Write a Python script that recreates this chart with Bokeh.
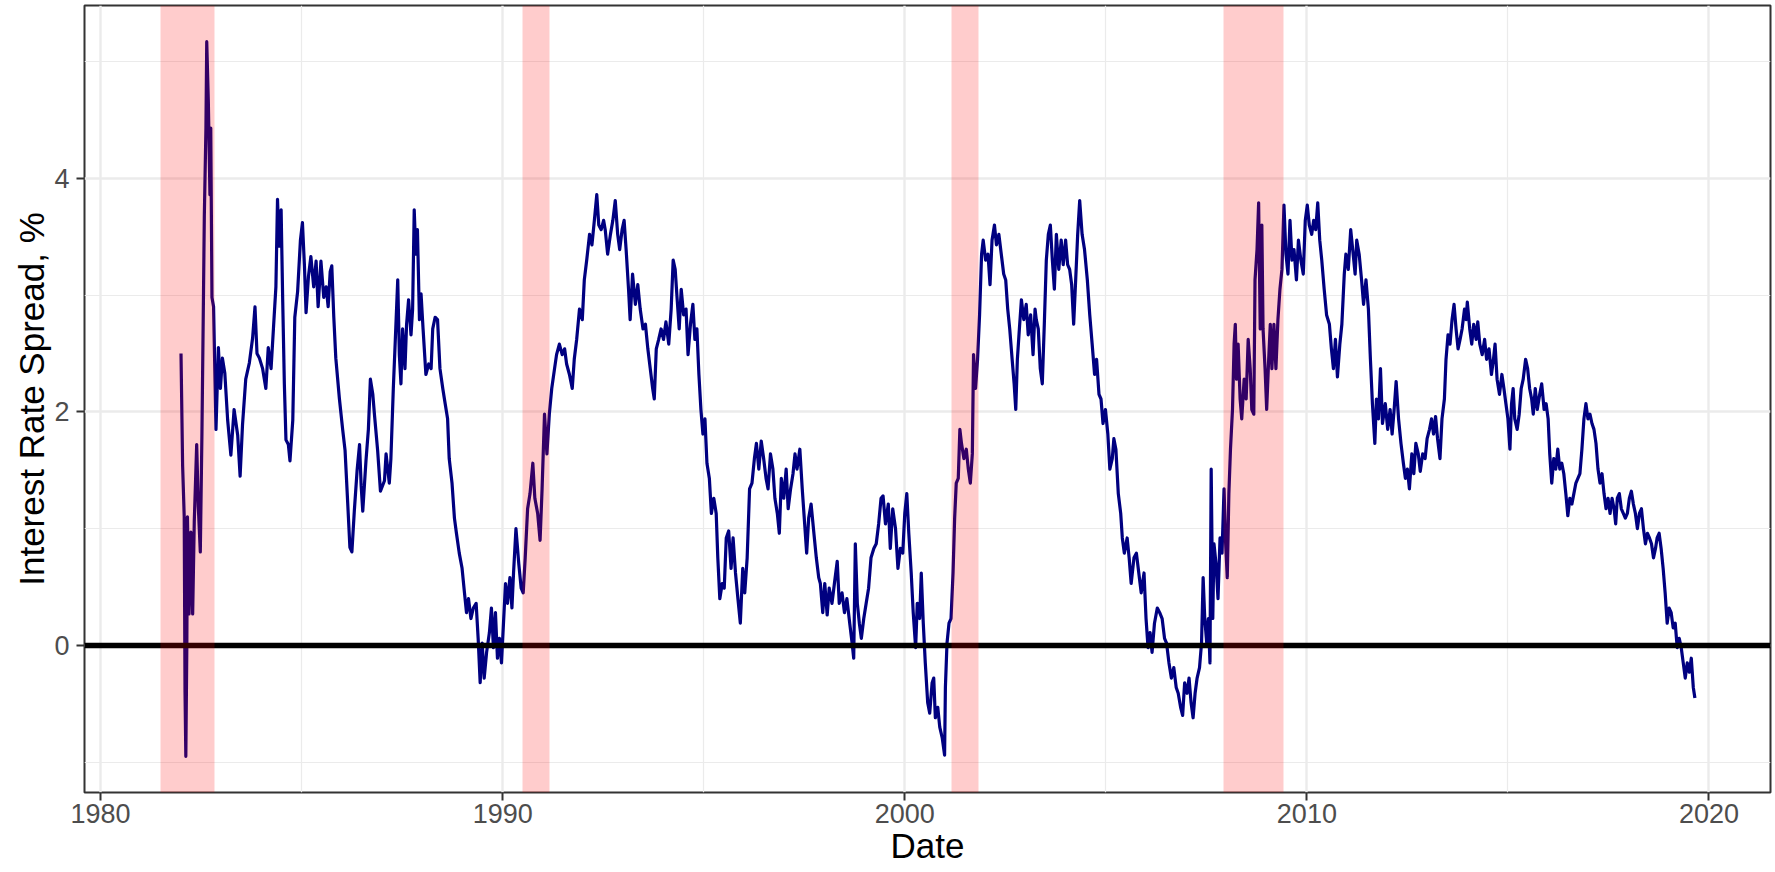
from bokeh.plotting import figure
from bokeh.models import FixedTicker, Range1d
from bokeh.embed import file_html
from bokeh.resources import INLINE

# ---- data (decimal years, spread in %) ----
spread_year = [
    1982.00, 1982.04, 1982.08, 1982.10, 1982.12, 1982.145, 1982.16, 1982.20, 1982.245, 1982.29,
    1982.33, 1982.39, 1982.43, 1982.48, 1982.52, 1982.56, 1982.58, 1982.62, 1982.64, 1982.68,
    1982.72, 1982.74, 1982.77, 1982.81, 1982.84, 1982.87, 1982.93, 1982.98, 1983.03, 1983.09,
    1983.16, 1983.24, 1983.32, 1983.41, 1983.47, 1983.53, 1983.61, 1983.70, 1983.78, 1983.84,
    1983.89, 1983.95, 1984.03, 1984.11, 1984.17, 1984.24, 1984.30, 1984.36, 1984.40, 1984.44,
    1984.49, 1984.53, 1984.57, 1984.61, 1984.67, 1984.71, 1984.78, 1984.83, 1984.90, 1984.97,
    1985.02, 1985.07, 1985.11, 1985.17, 1985.23, 1985.30, 1985.36, 1985.41, 1985.48, 1985.55,
    1985.61, 1985.66, 1985.71, 1985.75, 1985.80, 1985.85, 1985.94, 1986.02, 1986.08, 1986.15,
    1986.20, 1986.25, 1986.31, 1986.38, 1986.44, 1986.48, 1986.52, 1986.60, 1986.66, 1986.71,
    1986.77, 1986.81, 1986.89, 1986.96, 1987.06,
    1987.10, 1987.18, 1987.22, 1987.28, 1987.33, 1987.39, 1987.43, 1987.47, 1987.51, 1987.57,
    1987.61, 1987.66, 1987.72, 1987.76, 1987.80, 1987.84, 1987.88, 1987.93, 1987.97, 1988.02,
    1988.09, 1988.16, 1988.22, 1988.26, 1988.32, 1988.38, 1988.44, 1988.51, 1988.57, 1988.63,
    1988.67, 1988.74, 1988.80, 1988.85, 1988.92, 1988.99, 1989.05, 1989.10, 1989.15, 1989.21,
    1989.27, 1989.34, 1989.39, 1989.44, 1989.49, 1989.54, 1989.60, 1989.67, 1989.72, 1989.77,
    1989.82, 1989.87, 1989.92, 1989.97, 1990.02, 1990.07, 1990.12, 1990.18, 1990.23, 1990.27,
    1990.33, 1990.40, 1990.46, 1990.51, 1990.56, 1990.62, 1990.68, 1990.75, 1990.80, 1990.87,
    1990.93, 1990.98, 1991.04, 1991.10, 1991.16, 1991.22, 1991.29, 1991.34, 1991.41, 1991.48,
    1991.54, 1991.59, 1991.66, 1991.73, 1991.78, 1991.84, 1991.91, 1991.98, 1992.03, 1992.09,
    1992.16, 1992.22, 1992.28, 1992.34, 1992.39, 1992.45, 1992.51,
    1992.55, 1992.61, 1992.68, 1992.74, 1992.80, 1992.86, 1992.91, 1992.97, 1993.02, 1993.07,
    1993.13, 1993.17, 1993.23, 1993.30, 1993.36, 1993.42, 1993.49, 1993.55, 1993.61, 1993.67,
    1993.73, 1993.77, 1993.82, 1993.88, 1993.94, 1994.00, 1994.06, 1994.13, 1994.19, 1994.24,
    1994.29, 1994.34, 1994.39, 1994.44, 1994.50, 1994.56, 1994.61, 1994.67, 1994.73, 1994.78,
    1994.83, 1994.88, 1994.93, 1994.98, 1995.03, 1995.08, 1995.14, 1995.19, 1995.25, 1995.31,
    1995.35, 1995.40, 1995.46, 1995.51, 1995.56, 1995.62, 1995.68, 1995.73, 1995.79, 1995.85,
    1995.91, 1995.97, 1996.02, 1996.08, 1996.14, 1996.20, 1996.26, 1996.31, 1996.37, 1996.43,
    1996.49, 1996.55, 1996.60, 1996.66, 1996.72, 1996.77, 1996.83, 1996.88, 1996.93, 1996.99,
    1997.05, 1997.10, 1997.16, 1997.22, 1997.27, 1997.32, 1997.39, 1997.45, 1997.51, 1997.56,
    1997.61, 1997.67, 1997.74, 1997.80, 1997.86,
    1997.90, 1997.96, 1998.01, 1998.07, 1998.12, 1998.19, 1998.25, 1998.32, 1998.37, 1998.44,
    1998.50, 1998.56, 1998.63, 1998.69, 1998.73, 1998.77, 1998.82, 1998.87, 1998.92, 1998.98,
    1999.04, 1999.10, 1999.16, 1999.23, 1999.29, 1999.35, 1999.41, 1999.46, 1999.52, 1999.59,
    1999.64, 1999.70, 1999.77, 1999.83, 1999.89, 1999.95, 2000.00, 2000.05, 2000.10, 2000.16,
    2000.21, 2000.27, 2000.31, 2000.37, 2000.41, 2000.46, 2000.51, 2000.57, 2000.62, 2000.68,
    2000.72, 2000.76, 2000.82, 2000.87, 2000.93, 2000.99, 2001.01, 2001.05, 2001.10, 2001.15,
    2001.20, 2001.24, 2001.28, 2001.33, 2001.37, 2001.41, 2001.47, 2001.53, 2001.58, 2001.63,
    2001.68, 2001.71, 2001.76, 2001.81, 2001.86, 2001.91, 2001.95, 2002.01, 2002.07, 2002.12,
    2002.17, 2002.23, 2002.28, 2002.34, 2002.40, 2002.46, 2002.51, 2002.56, 2002.61, 2002.67,
    2002.72, 2002.76, 2002.80, 2002.85, 2002.90, 2002.96, 2003.02, 2003.07, 2003.13, 2003.19,
    2003.24,
    2003.27, 2003.32, 2003.37, 2003.42, 2003.47, 2003.52, 2003.57, 2003.62, 2003.67, 2003.72,
    2003.77, 2003.83, 2003.89, 2003.94, 2004.00, 2004.05, 2004.10, 2004.15, 2004.20, 2004.25,
    2004.30, 2004.35, 2004.41, 2004.47, 2004.54, 2004.60, 2004.66, 2004.72, 2004.77, 2004.83,
    2004.88, 2004.93, 2004.99, 2005.05, 2005.10, 2005.16, 2005.20, 2005.25, 2005.31, 2005.37,
    2005.41, 2005.46, 2005.53, 2005.58, 2005.63, 2005.70, 2005.76, 2005.82, 2005.88, 2005.95,
    2006.00, 2006.05, 2006.10, 2006.15, 2006.21, 2006.28, 2006.34, 2006.40, 2006.46, 2006.51,
    2006.57, 2006.63, 2006.69, 2006.75, 2006.80, 2006.86, 2006.91, 2006.96, 2007.02, 2007.07,
    2007.12, 2007.17, 2007.22, 2007.27, 2007.33, 2007.38, 2007.42, 2007.46, 2007.51, 2007.55,
    2007.59, 2007.62, 2007.66, 2007.69, 2007.74, 2007.79, 2007.84, 2007.89, 2007.94, 2007.98,
    2008.02, 2008.06, 2008.10, 2008.15, 2008.19, 2008.22, 2008.25, 2008.29, 2008.34, 2008.38,
    2008.44, 2008.49, 2008.54, 2008.59,
    2008.63, 2008.68, 2008.71, 2008.76, 2008.80, 2008.84, 2008.88, 2008.91, 2008.96, 2009.00,
    2009.05, 2009.09, 2009.13, 2009.18, 2009.23, 2009.28, 2009.33, 2009.38, 2009.43, 2009.48,
    2009.53, 2009.58, 2009.63, 2009.68, 2009.74, 2009.79, 2009.85, 2009.91, 2009.96, 2010.01,
    2010.06, 2010.12, 2010.17, 2010.22, 2010.27, 2010.32, 2010.37, 2010.43, 2010.49, 2010.56,
    2010.61, 2010.66, 2010.71, 2010.76, 2010.82, 2010.87, 2010.93, 2010.97, 2011.03, 2011.09,
    2011.14, 2011.20, 2011.24, 2011.30, 2011.36, 2011.41, 2011.47, 2011.53, 2011.58, 2011.63,
    2011.69, 2011.73, 2011.78, 2011.83, 2011.88, 2011.95, 2012.01, 2012.07, 2012.12, 2012.17,
    2012.22, 2012.28, 2012.34, 2012.40, 2012.45, 2012.50, 2012.55, 2012.61, 2012.66, 2012.71,
    2012.77, 2012.82, 2012.88, 2012.94, 2012.99, 2013.05, 2013.10, 2013.15, 2013.20, 2013.25,
    2013.31, 2013.36, 2013.42, 2013.46, 2013.51, 2013.56, 2013.61, 2013.66, 2013.71, 2013.76,
    2013.81, 2013.86, 2013.92, 2013.96,
    2013.99, 2014.05, 2014.10, 2014.15, 2014.21, 2014.25, 2014.30, 2014.36, 2014.42, 2014.47,
    2014.53, 2014.59, 2014.64, 2014.68, 2014.73, 2014.79, 2014.85, 2014.90, 2014.95, 2015.00,
    2015.05, 2015.09, 2015.13, 2015.17, 2015.23, 2015.28, 2015.33, 2015.38, 2015.44, 2015.49,
    2015.54, 2015.59, 2015.63, 2015.68, 2015.73, 2015.79, 2015.84, 2015.90, 2015.95, 2016.00,
    2016.04, 2016.09, 2016.14, 2016.19, 2016.24, 2016.29, 2016.34, 2016.39, 2016.44, 2016.49,
    2016.54, 2016.59, 2016.64, 2016.69, 2016.74, 2016.79, 2016.84, 2016.89, 2016.94, 2016.99,
    2017.04, 2017.09, 2017.14, 2017.19, 2017.24, 2017.29, 2017.34, 2017.39, 2017.44, 2017.49,
    2017.54, 2017.59, 2017.64, 2017.68, 2017.72, 2017.77, 2017.82, 2017.87, 2017.92, 2017.97,
    2018.02, 2018.07, 2018.12, 2018.17, 2018.22, 2018.27, 2018.32, 2018.37, 2018.42, 2018.47,
    2018.52, 2018.57, 2018.62, 2018.67, 2018.71, 2018.76, 2018.81, 2018.86, 2018.91, 2018.96,
    2019.01, 2019.06, 2019.11, 2019.16, 2019.21, 2019.26, 2019.31, 2019.36, 2019.41, 2019.46,
    2019.51, 2019.56, 2019.61, 2019.65,
]

spread_pct = [
    2.50, 1.54, 1.10, -0.40, -0.95, 0.00, 1.10, 0.27, 0.97, 0.27,
    1.06, 1.72, 1.19, 0.80, 1.80, 3.03, 3.68, 4.43, 5.17, 4.65,
    3.86, 4.43, 2.98, 2.90, 2.37, 1.85, 2.55, 2.20, 2.46, 2.33,
    1.93, 1.63, 2.02, 1.80, 1.45, 1.89, 2.28, 2.42, 2.63, 2.90,
    2.50, 2.46, 2.37, 2.20, 2.55, 2.37, 2.72, 3.07, 3.82, 3.42,
    3.73, 2.94, 2.24, 1.76, 1.72, 1.58, 1.93, 2.81, 3.03, 3.47,
    3.62, 3.25, 2.85, 3.16, 3.33, 3.07, 3.29, 2.90, 3.29, 2.98,
    3.07, 2.90, 3.20, 3.25, 2.81, 2.46, 2.11, 1.85, 1.67, 1.19,
    0.84, 0.80, 1.15, 1.50, 1.72, 1.37, 1.15, 1.58, 1.85, 2.28,
    2.15, 1.98, 1.67, 1.32, 1.41,
    1.64, 1.39, 1.60, 2.20, 2.62, 3.13, 2.49, 2.24, 2.71, 2.37,
    2.75, 2.96, 2.66, 2.88, 3.73, 3.35, 3.56, 2.79, 3.01, 2.71,
    2.32, 2.41, 2.37, 2.71, 2.81, 2.79, 2.37, 2.20, 2.07, 1.94,
    1.60, 1.39, 1.09, 0.96, 0.79, 0.66, 0.45, 0.28, 0.40, 0.23,
    0.32, 0.36, 0.06, -0.32, 0.02, -0.28, -0.06, 0.11, 0.32, -0.02,
    0.28, -0.11, 0.06, -0.15, 0.19, 0.53, 0.36, 0.58, 0.32, 0.62,
    1.00, 0.70, 0.49, 0.45, 0.75, 1.17, 1.30, 1.56, 1.26, 1.13,
    0.90, 1.34, 1.98, 1.64, 1.98, 2.20, 2.37, 2.49, 2.58, 2.49,
    2.54, 2.41, 2.32, 2.20, 2.45, 2.62, 2.88, 2.79, 3.13, 3.30,
    3.52, 3.43, 3.64, 3.86, 3.60, 3.56, 3.64,
    3.56, 3.35, 3.52, 3.64, 3.81, 3.52, 3.39, 3.56, 3.64, 3.39,
    3.05, 2.79, 3.18, 2.92, 3.09, 2.88, 2.71, 2.75, 2.54, 2.37,
    2.20, 2.11, 2.54, 2.62, 2.71, 2.62, 2.77, 2.58, 2.88, 3.30,
    3.22, 2.96, 2.71, 3.05, 2.83, 2.88, 2.49, 2.75, 2.92, 2.62,
    2.71, 2.32, 2.02, 1.81, 1.94, 1.56, 1.43, 1.13, 1.26, 1.13,
    0.75, 0.40, 0.53, 0.49, 0.92, 0.98, 0.66, 0.92, 0.62, 0.40,
    0.19, 0.66, 0.45, 0.75, 1.34, 1.39, 1.60, 1.73, 1.51, 1.75,
    1.60, 1.43, 1.34, 1.64, 1.51, 1.26, 1.13, 0.96, 1.43, 1.26,
    1.51, 1.17, 1.34, 1.47, 1.64, 1.51, 1.68, 1.34, 1.04, 0.79,
    1.09, 1.21, 0.96, 0.75, 0.58,
    0.53, 0.28, 0.53, 0.26, 0.49, 0.36, 0.53, 0.72, 0.36, 0.45,
    0.28, 0.40, 0.19, 0.02, -0.11, 0.87, 0.36, 0.19, 0.06, 0.23,
    0.36, 0.49, 0.75, 0.83, 0.87, 1.04, 1.26, 1.28, 1.04, 1.21,
    0.83, 1.17, 1.00, 0.66, 0.83, 0.79, 1.13, 1.30, 0.96, 0.62,
    0.28, -0.02, 0.36, 0.23, 0.62, 0.19, -0.15, -0.49, -0.58, -0.32,
    -0.28, -0.62, -0.53, -0.70, -0.79, -0.94, -0.36, 0.02, 0.19, 0.23,
    0.62, 1.09, 1.39, 1.43, 1.85, 1.73, 1.60, 1.68, 1.51, 1.39,
    1.64, 2.49, 2.20, 2.45, 2.83, 3.35, 3.47, 3.30, 3.35, 3.09,
    3.47, 3.60, 3.43, 3.52, 3.35, 3.18, 3.13, 2.88, 2.71, 2.45,
    2.24, 2.02, 2.45, 2.71, 2.96, 2.79, 2.92, 2.66, 2.83, 2.49,
    2.88,
    2.79, 2.71, 2.37, 2.24, 2.75, 3.30, 3.52, 3.60, 3.30, 3.05,
    3.52, 3.22, 3.47, 3.26, 3.47, 3.26, 3.22, 3.09, 2.75, 3.13,
    3.52, 3.81, 3.52, 3.39, 3.13, 2.83, 2.58, 2.32, 2.45, 2.15,
    2.11, 1.90, 2.02, 1.81, 1.51, 1.60, 1.77, 1.68, 1.30, 1.13,
    0.92, 0.79, 0.92, 0.75, 0.53, 0.75, 0.79, 0.62, 0.45, 0.62,
    0.23, -0.02, 0.11, -0.06, 0.19, 0.32, 0.28, 0.23, 0.06, 0.02,
    -0.15, -0.28, -0.19, -0.36, -0.41, -0.53, -0.60, -0.32, -0.41, -0.28,
    -0.49, -0.62, -0.41, -0.28, -0.19, 0.02, 0.58, 0.23, 0.02, 0.23,
    -0.15, 1.51, 0.23, 0.87, 0.70, 0.40, 0.92, 0.79, 1.34, 0.87,
    0.58, 1.30, 1.68, 2.02, 2.58, 2.75, 2.28, 2.58, 2.11, 1.94,
    2.28, 2.11, 2.62, 2.37,
    2.02, 1.98, 3.13, 3.39, 3.79, 2.71, 3.60, 2.71, 2.37, 2.02,
    2.45, 2.75, 2.37, 2.75, 2.37, 2.79, 3.05, 3.22, 3.77, 3.35,
    3.18, 3.64, 3.30, 3.39, 3.13, 3.47, 3.30, 3.18, 3.64, 3.77,
    3.60, 3.52, 3.64, 3.56, 3.79, 3.47, 3.30, 3.05, 2.83, 2.75,
    2.54, 2.37, 2.62, 2.30, 2.58, 2.75, 3.18, 3.35, 3.22, 3.56,
    3.39, 3.18, 3.47, 3.35, 3.13, 2.92, 3.13, 2.88, 2.45, 2.07,
    1.73, 2.11, 1.94, 2.37, 1.90, 2.07, 1.85, 2.02, 1.81, 2.02,
    2.26, 1.94, 1.73, 1.56, 1.43, 1.51, 1.34, 1.64, 1.47, 1.73,
    1.64, 1.49, 1.64, 1.60, 1.77, 1.85, 1.94, 1.81, 1.96, 1.77,
    1.60, 1.94, 2.11, 2.45, 2.66, 2.58, 2.79, 2.92, 2.71, 2.54,
    2.62, 2.71, 2.88, 2.79,
    2.94, 2.71, 2.58, 2.75, 2.62, 2.77, 2.58, 2.49, 2.62, 2.45,
    2.54, 2.32, 2.45, 2.58, 2.28, 2.15, 2.32, 2.20, 2.07, 1.94,
    1.68, 2.07, 2.20, 1.94, 1.85, 1.98, 2.20, 2.28, 2.45, 2.37,
    2.20, 2.11, 1.98, 2.20, 2.02, 2.15, 2.24, 2.02, 2.07, 1.94,
    1.64, 1.39, 1.60, 1.51, 1.68, 1.51, 1.56, 1.47, 1.30, 1.11,
    1.26, 1.21, 1.30, 1.39, 1.43, 1.47, 1.68, 1.94, 2.07, 1.94,
    1.98, 1.90, 1.85, 1.73, 1.51, 1.39, 1.47, 1.30, 1.17, 1.26,
    1.13, 1.26, 1.17, 1.04, 1.26, 1.30, 1.17, 1.13, 1.09, 1.13,
    1.26, 1.32, 1.21, 1.13, 1.00, 1.13, 1.17, 1.00, 0.87, 0.96,
    0.92, 0.87, 0.75, 0.83, 0.92, 0.96, 0.83, 0.66, 0.45, 0.19,
    0.32, 0.28, 0.15, 0.19, -0.02, 0.06, -0.02, -0.15, -0.28, -0.15,
    -0.23, -0.11, -0.36, -0.45,
]

# recession periods (decimal years)
recession_start = [1981.50, 1990.50, 2001.16, 2007.92]
recession_end = [1982.83, 1991.16, 2001.83, 2009.41]

# axis ticks
x_major_ticks = [1980, 1990, 2000, 2010, 2020]
x_minor_ticks = [1985, 1995, 2005, 2015]
y_major_ticks = [0, 2, 4]
y_minor_ticks = [-1, 1, 3, 5]

X_RANGE = (1979.60, 2021.53)
Y_RANGE = (-1.26, 5.48)

FONT = "Liberation Sans"

p = figure(
    width=1775, height=872,
    output_backend="svg", toolbar_location=None,
    x_range=Range1d(*X_RANGE), y_range=Range1d(*Y_RANGE),
    x_axis_label="Date", y_axis_label="Interest Rate Spread, %",
    min_border_left=84, min_border_right=5, min_border_top=5, min_border_bottom=80,
    background_fill_color="white", border_fill_color="white",
)

p.outline_line_color = "#333333"
p.outline_line_width = 2

# axes
p.xaxis.ticker = FixedTicker(ticks=x_major_ticks, minor_ticks=x_minor_ticks)
p.yaxis.ticker = FixedTicker(ticks=y_major_ticks, minor_ticks=y_minor_ticks)
for ax in (p.xaxis[0], p.yaxis[0]):
    ax.axis_line_color = None
    ax.major_tick_line_color = "#333333"
    ax.major_tick_line_width = 2
    ax.major_tick_out = 8
    ax.major_tick_in = 0
    ax.minor_tick_line_color = None
    ax.major_label_text_font = FONT
    ax.major_label_text_font_size = "27px"
    ax.major_label_text_color = "#4D4D4D"
    ax.axis_label_text_font = FONT
    ax.axis_label_text_font_size = "35px"
    ax.axis_label_text_font_style = "normal"
    ax.axis_label_text_color = "black"
    ax.axis_label_standoff = 0
p.xaxis.major_label_standoff = 3
p.yaxis.major_label_standoff = 7

# grids
for g in (p.xgrid[0], p.ygrid[0]):
    g.grid_line_color = "#EBEBEB"
    g.grid_line_width = 2.4
    g.minor_grid_line_color = "#EBEBEB"
    g.minor_grid_line_width = 1.2

# series
p.line(spread_year, spread_pct, line_color="#000080", line_width=3.2, line_join="round")

# zero reference line
p.hspan(y=[0], line_color="black", line_width=5.5)

# recession shading (drawn on top, translucent)
p.vstrip(x0=recession_start, x1=recession_end, fill_color="red", fill_alpha=0.2, line_color=None)

open("out.html", "w").write(file_html(p, INLINE))
